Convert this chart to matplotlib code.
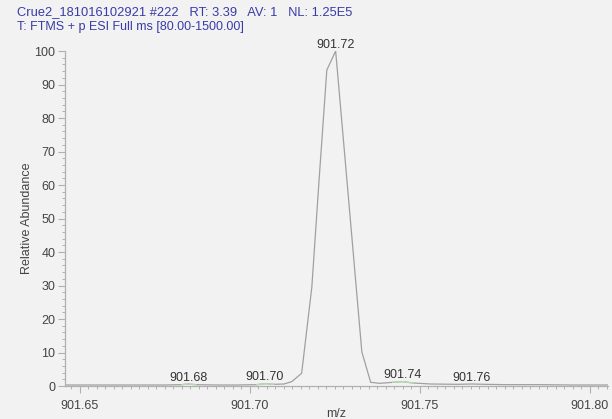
import numpy as np
import matplotlib
matplotlib.use('Agg')
from matplotlib import pyplot as plt
from matplotlib.ticker import MultipleLocator

plt.rcParams['font.family'] = ['Liberation Sans', 'DejaVu Sans']

# profile spectrum (m/z, relative abundance)
mz = [901.6456, 901.6550, 901.6650, 901.6750, 901.6800, 901.6818, 901.6840,
      901.6900, 901.6960, 901.7020, 901.7044, 901.7070, 901.7100, 901.7123,
      901.7152, 901.7182, 901.7203, 901.7226, 901.7252, 901.7274, 901.7300,
      901.7329, 901.7355, 901.7382, 901.7420, 901.7448, 901.7480, 901.7530,
      901.7610, 901.7653, 901.7690, 901.7750, 901.7850, 901.7950, 901.8053]
inten = [0.3, 0.3, 0.3, 0.3, 0.4, 0.6, 0.4,
         0.3, 0.3, 0.4, 0.7, 0.5, 0.6, 1.3,
         3.8, 29.6, 61.1, 94.3, 100.0, 74.4, 44.1,
         10.2, 1.1, 0.8, 1.1, 1.3, 0.9, 0.6,
         0.5, 0.6, 0.5, 0.4, 0.4, 0.3, 0.3]

# labelled peaks
peak_mz = [901.6818, 901.7044, 901.7252, 901.7448, 901.7653]
peak_int = [0.6, 0.7, 100.0, 1.3, 0.6]
peak_txt = ['901.68', '901.70', '901.72', '901.74', '901.76']

header1 = 'Crue2_181016102921 #222   RT: 3.39   AV: 1   NL: 1.25E5'
header2 = 'T: FTMS + p ESI Full ms [80.00-1500.00]'

bg = '#f2f2f2'
fig = plt.figure(figsize=(6.12, 4.19), dpi=100, facecolor=bg)
ax = fig.add_axes([65/612, 33/419, 543/612, 335/419], facecolor=bg)

ax.plot(mz, inten, color='#a0a0a0', lw=0.9)
# small green highlight under labelled minor peaks
for p in [901.6818, 901.7044, 901.7448, 901.7653]:
    sel = [(m, v) for m, v in zip(mz, inten) if abs(m - p) < 0.0035]
    if len(sel) > 1:
        ax.plot([s[0] for s in sel], [s[1] for s in sel], color='#b5dcae', lw=1.0)

for m, v, t in zip(peak_mz, peak_int, peak_txt):
    ax.annotate(t, (m, v), xytext=(0, 0.3), textcoords='offset points',
                ha='center', va='bottom', fontsize=9, color='#333333')

ax.set_xlim(901.6456, 901.8053)
ax.set_ylim(0, 100)
ax.xaxis.set_major_locator(MultipleLocator(0.05))
ax.xaxis.set_minor_locator(MultipleLocator(0.0025))
ax.yaxis.set_major_locator(MultipleLocator(10))
ax.yaxis.set_minor_locator(MultipleLocator(2))
ax.xaxis.set_major_formatter(plt.FuncFormatter(lambda v, p: '%.2f' % v))

for s in ['top', 'right']:
    ax.spines[s].set_visible(False)
for s in ['left', 'bottom']:
    ax.spines[s].set_color('#b0b0b0')
    ax.spines[s].set_linewidth(0.9)

ax.tick_params(which='major', direction='out', length=5, width=0.8,
               color='#b0b0b0', labelsize=9, labelcolor='#444444')
ax.tick_params(which='minor', direction='out', length=2.5, width=0.7, color='#b0b0b0')
ax.tick_params(axis='x', which='major', pad=5)
ax.tick_params(axis='y', which='major', pad=2)

ax.set_ylabel('Relative Abundance', fontsize=9, color='#444444', labelpad=1)
ax.set_clip_on(False)

fig.text(17/612, 1 - 12/419, header1, fontsize=9.3, color='#3a3aa8', va='center', ha='left')
fig.text(17/612, 1 - 27/419, header2, fontsize=9, color='#3a3aa8', va='center', ha='left')
fig.text(336/612, 1 - 408/419, 'm/z', fontsize=9, color='#444444', va='top', ha='center')

fig.savefig('out.png', dpi=100, facecolor=bg)
